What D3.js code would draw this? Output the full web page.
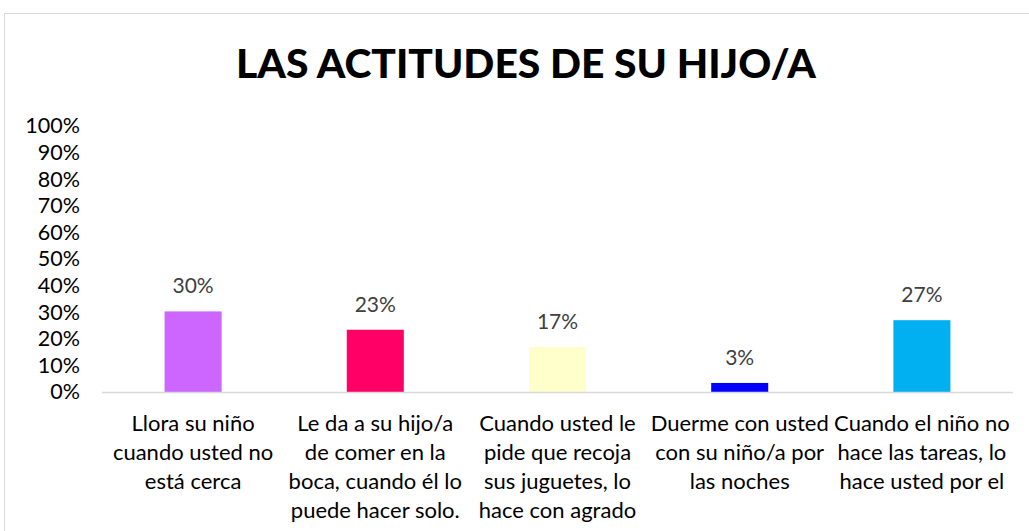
<!DOCTYPE html>
<html>
<head>
<meta charset="utf-8">
<script src="https://cdn.jsdelivr.net/npm/d3@7"></script>
<style>
  body { margin: 0; background: #fff; }
  svg { display: block; }
</style>
</head>
<body>
<div id="chart"></div>
<script>
// data
const categories = [
  "Llora su niño\ncuando usted no\nestá cerca",
  "Le da a su hijo/a\nde comer en la\nboca, cuando él lo\npuede hacer solo.",
  "Cuando usted le\npide que recoja\nsus juguetes, lo\nhace con agrado",
  "Duerme con usted\ncon su niño/a por\nlas noches",
  "Cuando el niño no\nhace las tareas, lo\nhace usted por el"
];
const values = [0.303, 0.234, 0.169, 0.034, 0.27];
const colors = ["#CC66FF", "#FF0066", "#FFFFCC", "#0000FF", "#00B0F0"];
const yTicks = [0, 0.1, 0.2, 0.3, 0.4, 0.5, 0.6, 0.7, 0.8, 0.9, 1];
const title = "LAS ACTITUDES DE SU HIJO/A";

const W = 1029, H = 531;
const font = "Lato, 'Open Sans', sans-serif";

const svg = d3.select("#chart")
  .append("svg")
    .attr("width", W)
    .attr("height", H);

// chart frame (runs off the right and bottom edges)
svg.append("rect")
    .attr("x", 4.5)
    .attr("y", 13.5)
    .attr("width", 1100)
    .attr("height", 600)
    .attr("fill", "none")
    .attr("stroke", "#d9d9d9");

svg.append("text")
    .attr("x", 526)
    .attr("y", 78)
    .attr("text-anchor", "middle")
    .attr("font-family", font)
    .attr("font-weight", 900)
    .attr("font-size", 39)
    .attr("textLength", 580)
    .attr("lengthAdjust", "spacingAndGlyphs")
    .text(title);

const x = d3.scaleBand()
  .domain(d3.range(categories.length))
  .range([102, 1013])
  .paddingInner(0.687)
  .paddingOuter(0.3435);

const y = d3.scaleLinear()
  .domain([0, 1])
  .range([392, 126]);

// y axis labels only, no line
const yAxis = svg.append("g")
    .attr("transform", "translate(80,0)")
    .call(d3.axisLeft(y).tickValues(yTicks).tickFormat(d3.format(".0%")).tickSize(0).tickPadding(0));
yAxis.select(".domain").remove();
yAxis.selectAll("text")
    .attr("font-family", font)
    .attr("font-size", 21.5)
    .attr("fill", "#000");

// bars
svg.selectAll(".bar")
  .data(values)
  .join("rect")
    .attr("class", "bar")
    .attr("x", (d, i) => x(i))
    .attr("y", d => y(d))
    .attr("width", x.bandwidth())
    .attr("height", d => y(0) - y(d))
    .attr("fill", (d, i) => colors[i]);

// baseline
svg.append("line")
    .attr("x1", x.range()[0])
    .attr("x2", x.range()[1])
    .attr("y1", y(0) + 0.5)
    .attr("y2", y(0) + 0.5)
    .attr("stroke", "#d9d9d9")
    .attr("stroke-width", 1.5);

// value labels
svg.selectAll(".val")
  .data(values)
  .join("text")
    .attr("class", "val")
    .attr("x", (d, i) => x(i) + x.bandwidth() / 2)
    .attr("y", d => y(d) - 18)
    .attr("text-anchor", "middle")
    .attr("font-family", font)
    .attr("font-size", 21)
    .attr("fill", "#404040")
    .text(d => d3.format(".0%")(d));

// category labels, wrapped as in the original
const cat = svg.selectAll(".cat")
  .data(categories)
  .join("text")
    .attr("class", "cat")
    .attr("text-anchor", "middle")
    .attr("font-family", font)
    .attr("font-size", 22)
    .attr("fill", "#000");

cat.each(function(d, i) {
  const t = d3.select(this);
  d.split("\n").forEach((line, k) => {
    t.append("tspan")
      .attr("x", x(i) + x.bandwidth() / 2)
      .attr("y", 431 + k * 29)
      .text(line);
  });
});
</script>
</body>
</html>
